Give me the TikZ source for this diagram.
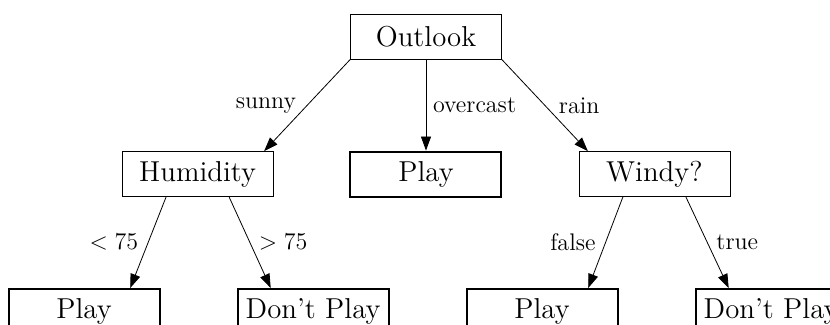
\documentclass[tikz,border=0pt]{standalone}
\usepackage{amsmath,amssymb}
\usepackage{tikz}
\usetikzlibrary{arrows.meta,positioning}
\tikzset{
  attr/.style ={rectangle, draw=black, minimum height=22.5pt, minimum width=75.5pt,
                inner xsep=2pt, align=center, font=\Large},
  leaf/.style ={rectangle, draw=black, line width=1pt, minimum height=22.5pt, minimum width=75.5pt,
                inner xsep=2pt, align=center, font=\Large},
  ar/.style   ={-{Triangle[length=7pt,width=5pt]}, draw=black},
  lbl/.style  ={font=\large},
}

\begin{document}
\begin{tikzpicture}[node distance=45.5pt and 38pt]
\useasboundingbox (-213pt,18.35pt) rectangle (202pt,-144.15pt);
\clip (-213pt,18.35pt) rectangle (202pt,-144.15pt);

\node[attr] (outlook) at (0,0) {Outlook};
\node[leaf, below=of outlook] (play) {Play};
\node[attr, left=of play] (humid) {Humidity};
\node[attr, right=of play] (windy) {Windy?};

\node[leaf, below=of humid, xshift=-56.75pt] (hplay) {Play};
\node[leaf, right=of hplay] (hdont) {Don't Play};
\node[leaf, right=of hdont] (wplay) {Play};
\node[leaf, right=of wplay] (wdont) {Don't Play};

\draw[ar] (outlook.south west) -- (humid.19) node[lbl, midway, left, xshift=-2pt] {sunny};
\draw[ar] (outlook.south) -- (play.north) node[lbl, midway, right] {overcast};
\draw[ar] (outlook.south east) -- (windy.161) node[lbl, midway, right, xshift=3.5pt] {rain};
\draw[ar] (humid.216) -- (hplay.27) node[lbl, midway, left, xshift=-1.5pt] {$<75$};
\draw[ar] (humid.324) -- (hdont.151) node[lbl, midway, right, xshift=1pt] {$>75$};
\draw[ar] (windy.216) -- (wplay.27) node[lbl, midway, left, xshift=-1.5pt] {false};
\draw[ar] (windy.324) -- (wdont.151) node[lbl, midway, right, xshift=1pt] {true};
\end{tikzpicture}
\end{document}
